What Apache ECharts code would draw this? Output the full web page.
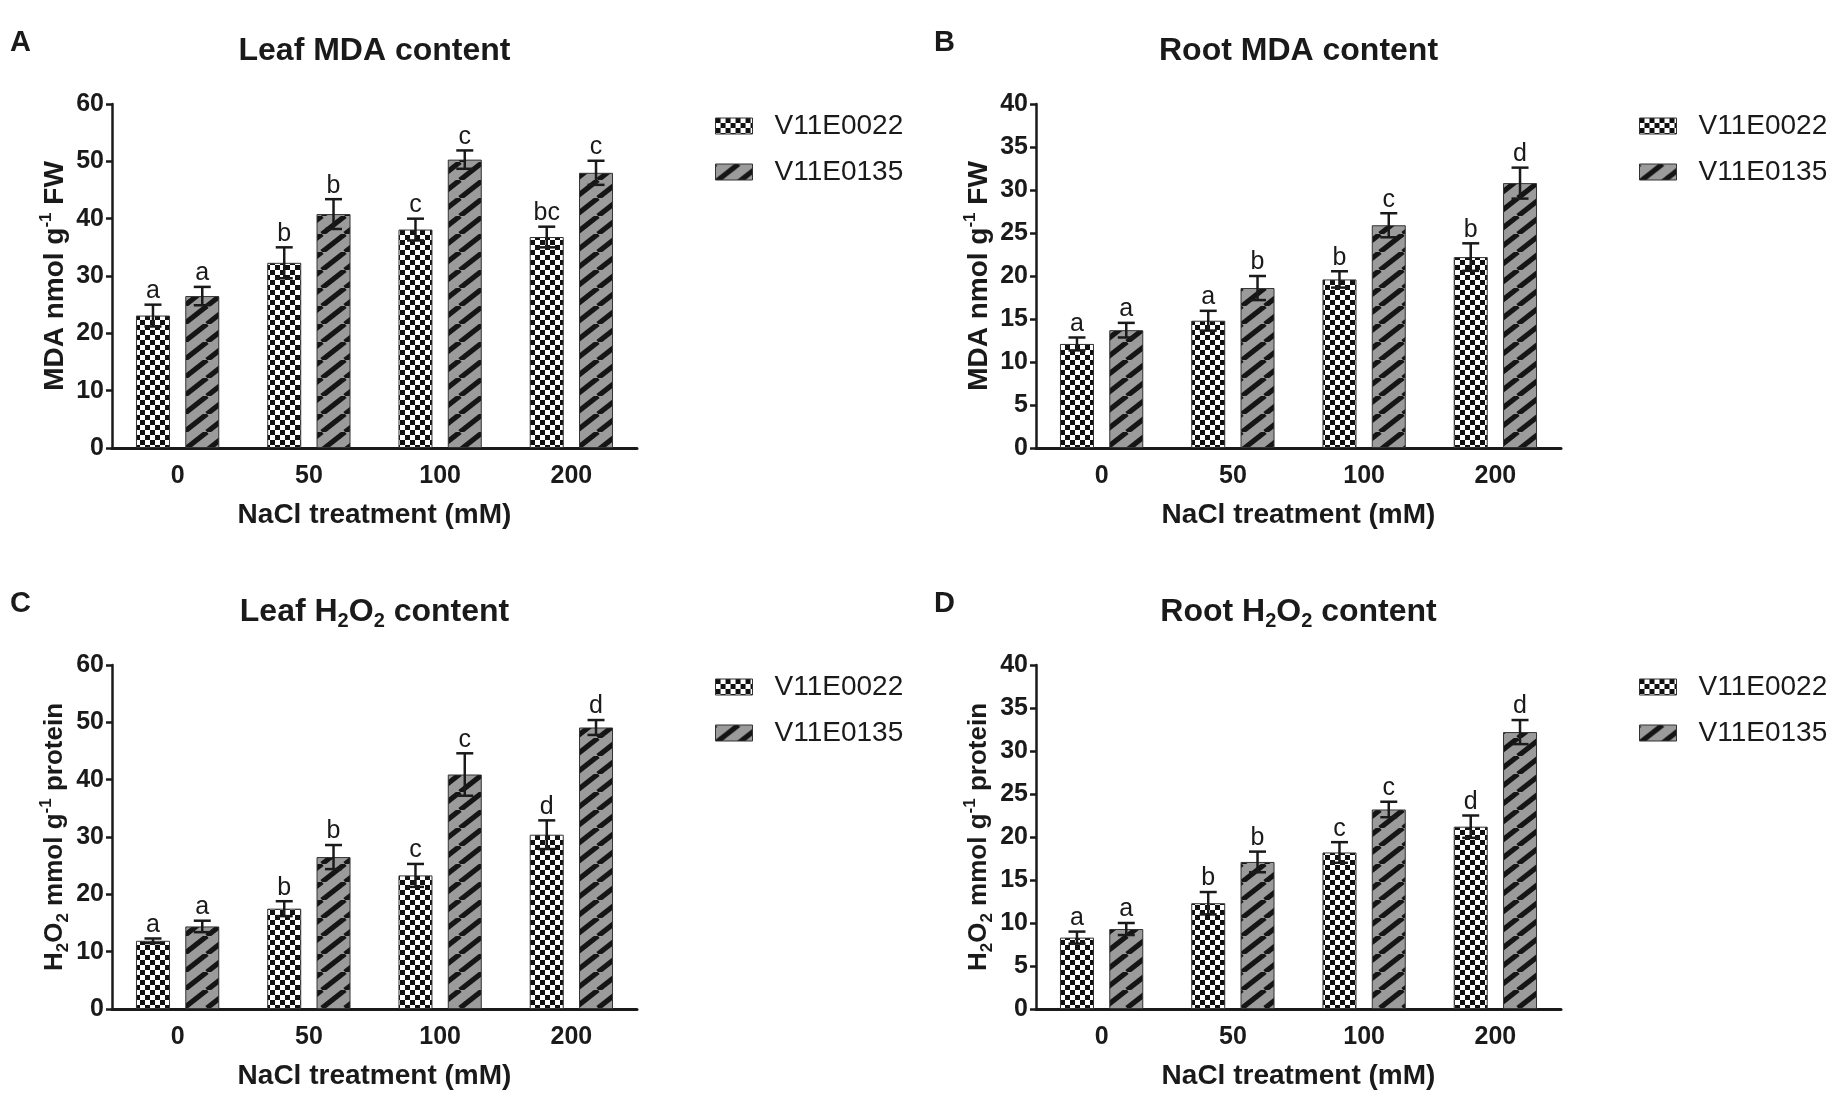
<!DOCTYPE html>
<html><head><meta charset="utf-8">
<script src="https://cdn.jsdelivr.net/npm/echarts@6/dist/echarts.min.js"></script>
<style>html,body{margin:0;padding:0;background:#fff}#c{width:1833px;height:1100px}</style>
</head><body><div id="c"></div>
<script>
// ---------- DATA ----------
const categories = ['0', '50', '100', '200'];
const seriesNames = ['V11E0022', 'V11E0135'];

// A: Leaf MDA content
const leafMDA_0022 = [23.1, 32.3, 38.1, 36.8];
const leafMDA_0022_err = [1.9, 2.7, 1.9, 1.8];
const leafMDA_0022_sig = ['a', 'b', 'c', 'bc'];
const leafMDA_0135 = [26.5, 40.8, 50.3, 48.0];
const leafMDA_0135_err = [1.6, 2.6, 1.6, 2.1];
const leafMDA_0135_sig = ['a', 'b', 'c', 'c'];

// B: Root MDA content
const rootMDA_0022 = [12.1, 14.8, 19.6, 22.2];
const rootMDA_0022_err = [0.75, 1.15, 0.95, 1.6];
const rootMDA_0022_sig = ['a', 'a', 'b', 'b'];
const rootMDA_0135 = [13.7, 18.6, 25.9, 30.8];
const rootMDA_0135_err = [0.85, 1.4, 1.4, 1.8];
const rootMDA_0135_sig = ['a', 'b', 'c', 'd'];

// C: Leaf H2O2 content
const leafH2O2_0022 = [11.9, 17.5, 23.3, 30.4];
const leafH2O2_0022_err = [0.4, 1.3, 2.0, 2.5];
const leafH2O2_0022_sig = ['a', 'b', 'c', 'd'];
const leafH2O2_0135 = [14.4, 26.5, 40.9, 49.1];
const leafH2O2_0135_err = [1.0, 2.1, 3.7, 1.3];
const leafH2O2_0135_sig = ['a', 'b', 'c', 'd'];

// D: Root H2O2 content
const rootH2O2_0022 = [8.3, 12.3, 18.2, 21.2];
const rootH2O2_0022_err = [0.7, 1.3, 1.2, 1.3];
const rootH2O2_0022_sig = ['a', 'b', 'c', 'd'];
const rootH2O2_0135 = [9.3, 17.1, 23.2, 32.2];
const rootH2O2_0135_err = [0.7, 1.2, 0.9, 1.4];
const rootH2O2_0135_sig = ['a', 'b', 'c', 'd'];

const leafAxisMax = 60, leafAxisInterval = 10;
const rootAxisMax = 40, rootAxisInterval = 5;

// ---------- STYLE ----------
const NARROW = '"Liberation Sans Narrow","Arial Narrow","Liberation Sans",Arial,sans-serif';
const SANS = '"Liberation Sans",Arial,sans-serif';
const INK = '#1a1a1a';
const BAR_W = 34;
const BAR_GAP = 0.45;
const OFFSET = (BAR_W + BAR_W * BAR_GAP) / 2;

function makeChecker() {
  const q = 5, c = document.createElement('canvas'); c.width = 2 * q; c.height = 2 * q;
  const g = c.getContext('2d');
  g.fillStyle = '#ffffff'; g.fillRect(0, 0, 2 * q, 2 * q);
  g.fillStyle = '#111111'; g.fillRect(0, 0, q, q); g.fillRect(q, q, q, q);
  return c;
}
function makeStripe() {
  const w = 23, h = 18; const c = document.createElement('canvas'); c.width = w; c.height = h;
  const g = c.getContext('2d');
  g.fillStyle = '#9b9b9b'; g.fillRect(0, 0, w, h);
  g.strokeStyle = '#151515'; g.lineWidth = 5.2;
  for (const o of [-w, 0, w]) { g.beginPath(); g.moveTo(o, h); g.lineTo(o + w, 0); g.stroke(); }
  return c;
}
const checkerFill = { image: makeChecker(), repeat: 'repeat' };
const stripeFill = { image: makeStripe(), repeat: 'repeat' };

const panels = [
  { letter: 'A', left: 112, top: 104, max: leafAxisMax, interval: leafAxisInterval,
    title: '{t|Leaf MDA content}',
    yname: '{b|MDA nmol g}{sup|-1}{b| FW}', ynameSize: 28,
    s1: [leafMDA_0022, leafMDA_0022_err, leafMDA_0022_sig],
    s2: [leafMDA_0135, leafMDA_0135_err, leafMDA_0135_sig] },
  { letter: 'B', left: 1036, top: 104, max: rootAxisMax, interval: rootAxisInterval,
    title: '{t|Root MDA content}',
    yname: '{b|MDA nmol g}{sup|-1}{b| FW}', ynameSize: 28,
    s1: [rootMDA_0022, rootMDA_0022_err, rootMDA_0022_sig],
    s2: [rootMDA_0135, rootMDA_0135_err, rootMDA_0135_sig] },
  { letter: 'C', left: 112, top: 665, max: leafAxisMax, interval: leafAxisInterval,
    title: '{t|Leaf H}{s|2}{t|O}{s|2}{t| content}',
    yname: '{b|H}{sub|2}{b|O}{sub|2}{b| mmol g}{sup|-1}{b| protein}', ynameSize: 26,
    s1: [leafH2O2_0022, leafH2O2_0022_err, leafH2O2_0022_sig],
    s2: [leafH2O2_0135, leafH2O2_0135_err, leafH2O2_0135_sig] },
  { letter: 'D', left: 1036, top: 665, max: rootAxisMax, interval: rootAxisInterval,
    title: '{t|Root H}{s|2}{t|O}{s|2}{t| content}',
    yname: '{b|H}{sub|2}{b|O}{sub|2}{b| mmol g}{sup|-1}{b| protein}', ynameSize: 26,
    s1: [rootH2O2_0022, rootH2O2_0022_err, rootH2O2_0022_sig],
    s2: [rootH2O2_0135, rootH2O2_0135_err, rootH2O2_0135_sig] }
];
const GRID_W = 525, GRID_H = 344;

const grid = [], xAxis = [], yAxis = [], series = [], legend = [], graphic = [];

function errSeries(idx, vals, errs, sigs, sign) {
  return {
    type: 'custom', xAxisIndex: idx, yAxisIndex: idx, z: 5, silent: true,
    data: vals.map((v, i) => [i, v, errs[i]]),
    renderItem: function (params, api) {
      const ci = api.value(0), m = api.value(1), e = api.value(2);
      const x = api.coord([ci, m])[0] + sign * OFFSET;
      const yt = api.coord([ci, m + e])[1];
      const yb = api.coord([ci, m - e])[1];
      const cap = 8.5;
      const ls = { stroke: INK, lineWidth: 2.5 };
      return { type: 'group', children: [
        { type: 'line', shape: { x1: x, y1: yt, x2: x, y2: yb }, style: ls },
        { type: 'line', shape: { x1: x - cap, y1: yt, x2: x + cap, y2: yt }, style: ls },
        { type: 'line', shape: { x1: x - cap, y1: yb, x2: x + cap, y2: yb }, style: ls },
        { type: 'text', x: x, y: yt - 1, style: { text: sigs[params.dataIndex], fill: INK,
            font: '25px ' + NARROW, align: 'center', verticalAlign: 'bottom',
            textAlign: 'center', textVerticalAlign: 'bottom' } }
      ] };
    }
  };
}

panels.forEach((p, i) => {
  grid.push({ left: p.left, top: p.top, width: GRID_W, height: GRID_H });
  xAxis.push({
    type: 'category', gridIndex: i, data: categories,
    axisLine: { lineStyle: { color: INK, width: 3 } },
    axisTick: { show: false },
    axisLabel: { color: INK, fontSize: 25, fontWeight: 'bold', fontFamily: NARROW, margin: 16 },
    name: 'NaCl treatment (mM)', nameLocation: 'middle', nameGap: 53,
    nameTextStyle: { color: INK, fontSize: 28, fontWeight: 'bold', fontFamily: NARROW }
  });
  yAxis.push({
    type: 'value', gridIndex: i, min: 0, max: p.max, interval: p.interval,
    splitLine: { show: false },
    axisLine: { show: true, lineStyle: { color: INK, width: 2.5 } },
    axisTick: { show: true, length: 6, lineStyle: { color: INK, width: 2.5 } },
    axisLabel: { color: INK, fontSize: 25, fontWeight: 'bold', fontFamily: NARROW, margin: 8 },
    name: p.yname, nameLocation: 'middle', nameGap: 40, nameRotate: 90,
    nameTextStyle: { color: INK, rich: {
      b: { fontSize: p.ynameSize, fontWeight: 'bold', fontFamily: SANS, color: INK, lineHeight: 34 },
      sup: { fontSize: 17, fontWeight: 'bold', fontFamily: SANS, color: INK, verticalAlign: 'top', lineHeight: 17 },
      sub: { fontSize: 17, fontWeight: 'bold', fontFamily: SANS, color: INK, verticalAlign: 'bottom', lineHeight: 17 }
    } }
  });
  series.push({
    name: seriesNames[0], type: 'bar', xAxisIndex: i, yAxisIndex: i, data: p.s1[0],
    barWidth: BAR_W, barGap: (BAR_GAP * 100) + '%',
    itemStyle: { color: checkerFill, borderColor: '#333', borderWidth: 1 }
  });
  series.push({
    name: seriesNames[1], type: 'bar', xAxisIndex: i, yAxisIndex: i, data: p.s2[0],
    barWidth: BAR_W, barGap: (BAR_GAP * 100) + '%',
    itemStyle: { color: stripeFill, borderColor: '#333', borderWidth: 1 }
  });
  series.push(errSeries(i, p.s1[0], p.s1[1], p.s1[2], -1));
  series.push(errSeries(i, p.s2[0], p.s2[1], p.s2[2], 1));
  legend.push({
    left: p.left + 603, top: p.top + 8, orient: 'vertical', padding: 0,
    itemWidth: 37, itemHeight: 16, itemGap: 18, selectedMode: false,
    data: seriesNames, icon: 'rect',
    itemStyle: { borderColor: '#333', borderWidth: 1 },
    textStyle: { color: INK, fontSize: 28, fontFamily: SANS, padding: [0, 0, 0, 17] }
  });
  const cx = p.left + GRID_W / 2;
  graphic.push({ type: 'text', x: cx, y: p.top - 53, style: {
    text: p.title, align: 'center', verticalAlign: 'middle', textAlign: 'center', textVerticalAlign: 'middle',
    rich: {
      t: { fontSize: 32, fontWeight: 'bold', fontFamily: NARROW, fill: INK, color: INK, lineHeight: 38 },
      s: { fontSize: 20, fontWeight: 'bold', fontFamily: NARROW, fill: INK, color: INK, verticalAlign: 'bottom', lineHeight: 20 }
    } } });
  graphic.push({ type: 'text', x: p.left - 102, y: p.top - 61, style: {
    text: p.letter, font: 'bold 29px ' + SANS, fill: INK, align: 'left', verticalAlign: 'middle',
    textAlign: 'left', textVerticalAlign: 'middle' } });
});

const chart = echarts.init(document.getElementById('c'), null, { renderer: 'canvas' });
chart.setOption({
  backgroundColor: '#ffffff', animation: false,
  grid, xAxis, yAxis, series, legend, graphic
});
</script></body></html>
